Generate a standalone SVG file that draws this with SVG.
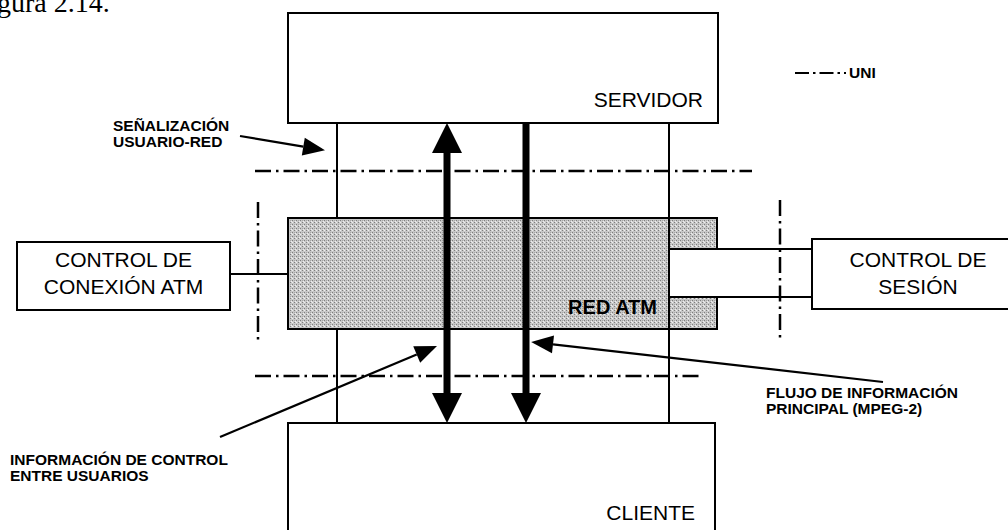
<svg xmlns="http://www.w3.org/2000/svg" width="1008" height="530" viewBox="0 0 1008 530">
  <style>
    .box { fill: #ffffff; stroke: #000000; stroke-width: 2; }
    .lbl { font-family: "Liberation Sans", Arial, sans-serif; font-size: 21px; fill: #000000; }
    .small { font-family: "Liberation Sans", Arial, sans-serif; font-size: 15.5px; font-weight: bold; fill: #000000; }
    .bold { font-family: "Liberation Sans", Arial, sans-serif; font-size: 20px; font-weight: bold; fill: #000000; }
    .wire { fill: none; stroke: #000000; stroke-width: 2; }
    .uni { fill: none; stroke: #000000; stroke-width: 2.5; stroke-dasharray: 16 5 2.5 5; }
    .thick { fill: none; stroke: #000000; stroke-width: 7; }
    .thin { fill: none; stroke: #000000; stroke-width: 2.2; }
  </style>
  <defs>
    <pattern id="ht" width="4" height="4" patternUnits="userSpaceOnUse">
      <rect width="4" height="4" fill="#c8c8c8"/>
      <rect x="0" y="0" width="1" height="1" fill="#7e7e7e"/>
      <rect x="2" y="2" width="1" height="1" fill="#7e7e7e"/>
      <rect x="2" y="0" width="1" height="1" fill="#a8a8a8"/>
      <rect x="0" y="2" width="1" height="1" fill="#eeeeee"/>
      <rect x="3" y="1" width="1" height="1" fill="#eeeeee"/>
    </pattern>
    <marker id="headThick" markerUnits="userSpaceOnUse" markerWidth="30" markerHeight="30" refX="0" refY="15" orient="auto-start-reverse" overflow="visible">
      <path d="M0,0 L30,15 L0,30 Z" fill="#000000"/>
    </marker>
    <marker id="headThin" markerUnits="userSpaceOnUse" markerWidth="22" markerHeight="18" refX="0" refY="9" orient="auto" overflow="visible">
      <path d="M0,0 L22,9 L0,18 Z" fill="#000000"/>
    </marker>
  </defs>

  <rect width="1008" height="530" fill="#ffffff"/>

  <text x="-3" y="12" font-family="'Liberation Serif', 'Times New Roman', serif" font-size="28" fill="#000000">gura 2.14.</text>

  <g id="red-atm">
    <path d="M288,218 L717,218 L717,249 L669,249 L669,297 L717,297 L717,329 L288,329 Z" fill="url(#ht)" stroke="#000000" stroke-width="2"/>
    <text class="bold" x="657" y="314" text-anchor="end">RED ATM</text>
  </g>

  <g id="servidor">
    <rect class="box" x="288" y="13" width="430" height="110"/>
    <text class="lbl" x="703" y="107" text-anchor="end">SERVIDOR</text>
  </g>

  <g id="cliente">
    <rect class="box" x="288" y="423" width="427" height="130"/>
    <text class="lbl" x="695" y="520" text-anchor="end">CLIENTE</text>
  </g>

  <g id="control-conexion">
    <rect class="box" x="17" y="242" width="213" height="68"/>
    <text class="lbl" x="123.5" y="267" text-anchor="middle">CONTROL DE</text>
    <text class="lbl" x="123.5" y="294" text-anchor="middle">CONEXIÓN ATM</text>
  </g>

  <g id="control-sesion">
    <rect class="box" x="812" y="239" width="200" height="70"/>
    <text class="lbl" x="918" y="267" text-anchor="middle">CONTROL DE</text>
    <text class="lbl" x="918" y="294" text-anchor="middle">SESIÓN</text>
  </g>

  <g id="uni-boundaries">
    <line class="uni" x1="255" y1="171" x2="752" y2="171"/>
    <line class="uni" x1="255" y1="376" x2="703" y2="376"/>
    <line class="uni" x1="258" y1="202" x2="258" y2="340"/>
    <line class="uni" x1="780" y1="200" x2="780" y2="342"/>
  </g>

  <g id="legend">
    <line class="uni" x1="795" y1="73" x2="846" y2="73" style="stroke-dasharray: 14 4 2.5 4; stroke-width: 2"/>
    <text class="small" x="849" y="78" font-size="14">UNI</text>
  </g>

  <g id="connectors">
    <line class="wire" x1="337" y1="123" x2="337" y2="218"/>
    <line class="wire" x1="337" y1="329" x2="337" y2="423"/>
    <polyline class="wire" points="669,123 669,249 812,249"/>
    <polyline class="wire" points="812,297 669,297 669,423"/>
    <line class="wire" x1="230" y1="274" x2="288" y2="274"/>
    <line class="thick" x1="447" y1="153" x2="447" y2="393" marker-start="url(#headThick)" marker-end="url(#headThick)"/>
    <line class="thick" x1="526" y1="123" x2="526" y2="393" marker-end="url(#headThick)"/>
    <line class="thin" x1="240" y1="136" x2="303.3" y2="146.6" marker-end="url(#headThin)"/>
    <line class="thin" x1="220" y1="437" x2="416.7" y2="354.5" marker-end="url(#headThin)"/>
    <line class="thin" x1="883" y1="382" x2="553" y2="344.4" marker-end="url(#headThin)"/>
  </g>

  <g id="labels">
    <text class="small" x="113" y="131">SEÑALIZACIÓN</text>
    <text class="small" x="113" y="147">USUARIO-RED</text>
    <text class="small" x="10" y="465">INFORMACIÓN DE CONTROL</text>
    <text class="small" x="10" y="481">ENTRE USUARIOS</text>
    <text class="small" x="766" y="398">FLUJO DE INFORMACIÓN</text>
    <text class="small" x="766" y="414">PRINCIPAL (MPEG-2)</text>
  </g>
</svg>
